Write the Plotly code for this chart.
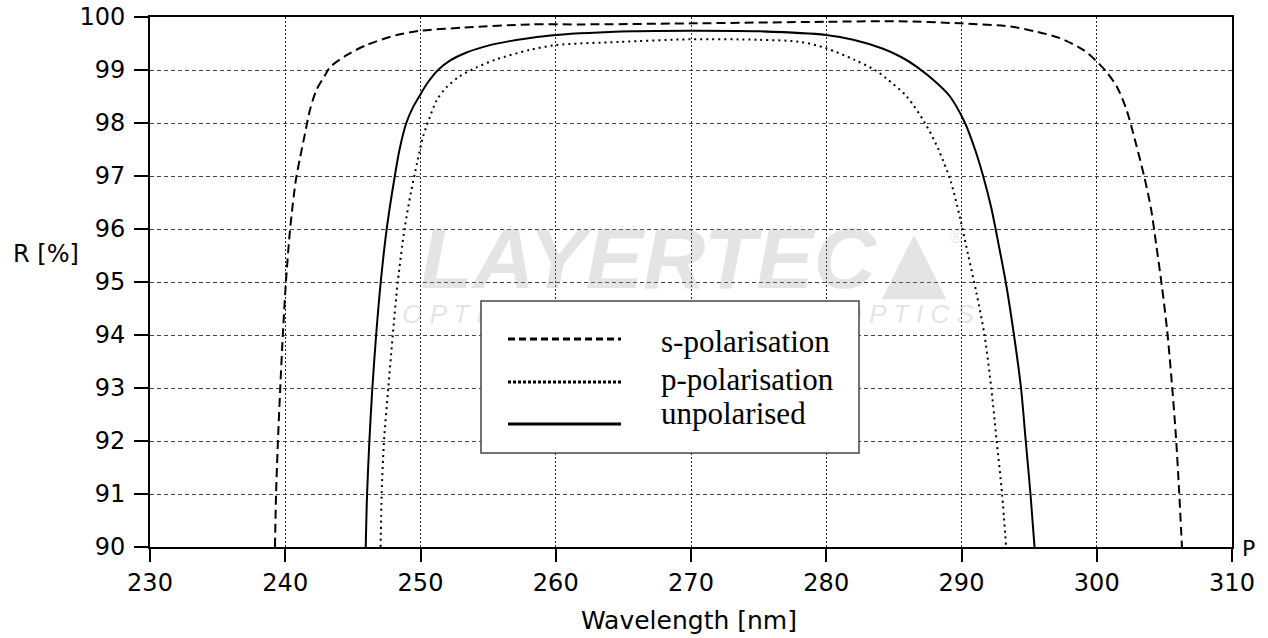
import plotly.graph_objects as go

# ---- data ----
s_wl = [239.24, 239.32, 239.46, 239.63, 239.82, 240.05, 240.36, 240.8, 241.1, 241.46, 241.83, 242.3,
        242.94, 243.3, 244.54, 246.0, 248.24, 250.0, 253.2, 258.1, 262, 270, 280, 285.4, 289.9,
        293.6, 295.6, 297.3, 299.0, 300.0, 300.7, 301.5, 302.2, 302.7, 303.5, 304.0, 304.4,
        304.8, 305.2, 305.55, 305.85, 306.08, 306.3]
s_R = [90, 91, 92, 93, 94, 95, 96, 96.95, 97.35, 97.8, 98.25, 98.62,
       98.9, 99.05, 99.28, 99.47, 99.66, 99.74, 99.8, 99.86, 99.86, 99.88, 99.91, 99.92, 99.88,
       99.82, 99.72, 99.6, 99.38, 99.16, 98.97, 98.68, 98.25, 97.8, 97.0, 96.4, 95.7,
       94.95, 94.1, 93.1, 92.1, 91.1, 90.0]

p_wl = [247.05, 247.13, 247.3, 247.62, 247.95, 248.32, 248.82, 249.3, 249.75, 250.2, 250.7, 251.2,
        251.94, 252.9, 254.15, 255.6, 258.1, 260, 264.7, 270, 275, 278.1, 280, 282.1, 283.6,
        284.4, 285.95, 287.3, 288.3, 289.2, 289.9, 290.5, 291.1, 291.7, 292.2, 292.6, 293.0, 293.3]
p_R = [90, 91, 92, 93, 94, 95, 96, 96.7, 97.25, 97.75, 98.12, 98.43,
       98.68, 98.88, 99.05, 99.2, 99.38, 99.47, 99.53, 99.58, 99.57, 99.53, 99.41, 99.19, 99.0,
       98.85, 98.5, 98.0, 97.5, 96.9, 96.2, 95.5, 94.8, 94.0, 93.0, 92.0, 91.0, 90.0]

u_wl = [245.95, 246.05, 246.22, 246.44, 246.72, 247.06, 247.5, 248.1, 248.45, 248.95, 249.45,
        249.9, 250.5, 251.3, 252.2, 253.4, 255.0, 256.5, 258.0, 260, 265.7, 270, 275.1, 280, 282.0,
        284.2, 285.5, 286.7, 288.2, 289.15, 290.26, 291.0, 291.6, 292.2, 292.75, 293.27, 293.88,
        294.4, 294.75, 295.1, 295.4]
u_R = [90, 91, 92, 93, 94, 95, 96, 97, 97.5, 98.0, 98.3,
       98.5, 98.75, 99.0, 99.18, 99.33, 99.46, 99.54, 99.6, 99.66, 99.73, 99.74, 99.73, 99.66, 99.57,
       99.4, 99.25, 99.06, 98.75, 98.5, 98.0, 97.5, 97.0, 96.4, 95.7, 95.0, 94.0,
       93.0, 92.0, 91.0, 90.0]

series_names = ["s-polarisation", "p-polarisation", "unpolarised"]
x_ticks = [230, 240, 250, 260, 270, 280, 290, 300, 310]
y_ticks = [90, 91, 92, 93, 94, 95, 96, 97, 98, 99, 100]

# ---- layout geometry (pixels) ----
W, H = 1268, 638
L, R_, T, B = 150, 36, 17, 91
PW, PH = W - L - R_, H - T - B


def px(x):
    return (x - L) / PW


def py(y):
    return (H - B - y) / PH


AX_FONT = "DejaVu Sans"
SERIF = "Liberation Serif"

fig = go.Figure()

# watermark (text trace on a hidden 0..1 overlay frame so it stays below the legend box)
fig.add_trace(go.Scatter(
    x=[px(648), px(914), px(956), px(688)], y=[py(266), py(268), py(238), py(316)],
    xaxis="x2", yaxis="y2", mode="text",
    text=["LAYERTEC", "▲", "®", "O P T I C A L    C O A T I N G S    &    O P T I C S"],
    textfont=dict(family=["Liberation Sans", "DejaVu Sans", "Liberation Sans", "Liberation Sans"],
                  size=[86, 84, 18, 26], color="rgba(150,150,150,0.26)",
                  weight=["bold", "normal", "normal", "normal"],
                  style=["italic", "normal", "normal", "italic"]),
    hoverinfo="skip", showlegend=False, cliponaxis=False,
))

line_styles = [dict(color="black", width=2, dash="9px,5px"),
               dict(color="black", width=2, dash="2px,4px"),
               dict(color="black", width=2)]
for name, xs, ys, ls in zip(series_names, [s_wl, p_wl, u_wl], [s_R, p_R, u_R], line_styles):
    fig.add_trace(go.Scatter(x=xs, y=ys, mode="lines", name=name,
                             line=dict(shape="spline", smoothing=0.8, **ls),
                             showlegend=False))

shapes = []
annotations = []

# custom legend box
shapes.append(dict(type="rect", xref="paper", yref="paper", layer="above",
                   x0=px(481), x1=px(859), y0=py(453), y1=py(301),
                   fillcolor="white", line=dict(color="#444", width=1.5)))
legend_line_y = [339, 382, 424]
legend_text_y = [341, 379, 413]
legend_dash = ["7px,4px", "3px,2px", "solid"]
for name, ly, ty, d in zip(series_names, legend_line_y, legend_text_y, legend_dash):
    shapes.append(dict(type="line", xref="paper", yref="paper", layer="above",
                       x0=px(508), x1=px(621), y0=py(ly), y1=py(ly),
                       line=dict(color="black", width=3, dash=d)))
    annotations.append(dict(xref="paper", yref="paper", x=px(659), y=py(ty),
                            xanchor="left", yanchor="middle", showarrow=False, text=name,
                            font=dict(family=SERIF, size=31, color="black")))

# axis titles
annotations.append(dict(xref="paper", yref="paper", x=px(11), y=py(254), xanchor="left",
                        yanchor="middle", showarrow=False, text="R [%]",
                        font=dict(family=AX_FONT, size=24, color="black")))
annotations.append(dict(xref="paper", yref="paper", x=px(689), y=py(620), xanchor="center",
                        yanchor="middle", showarrow=False, text="Wavelength [nm]",
                        font=dict(family=AX_FONT, size=25, color="black")))
annotations.append(dict(xref="paper", yref="paper", x=px(1248), y=py(548), xanchor="center",
                        yanchor="middle", showarrow=False, text="P",
                        font=dict(family=AX_FONT, size=22, color="black")))

fig.update_layout(
    width=W, height=H,
    margin=dict(l=L, r=R_, t=T, b=B, pad=0, autoexpand=False),
    paper_bgcolor="white", plot_bgcolor="white",
    showlegend=False,
    shapes=shapes, annotations=annotations,
    xaxis=dict(range=[230, 310], tickvals=x_ticks, ticktext=[str(v) for v in x_ticks],
               showline=True, linecolor="black", linewidth=2, mirror=True,
               ticks="outside", ticklen=13, tickwidth=2, tickcolor="black", automargin=False,
               showgrid=True, gridcolor="#222", gridwidth=1, griddash="2px,2px",
               zeroline=False, tickfont=dict(family=AX_FONT, size=24, color="black")),
    yaxis=dict(range=[90, 100], tickvals=y_ticks, ticktext=[str(v) for v in y_ticks],
               showline=True, linecolor="black", linewidth=2, mirror=True,
               ticks="outside", ticklen=14, tickwidth=2, tickcolor="black", automargin=False,
               ticklabelstandoff=4,
               showgrid=True, gridcolor="#444", gridwidth=1, griddash="4px,3px",
               zeroline=False, tickfont=dict(family=AX_FONT, size=24, color="black")),
    xaxis2=dict(range=[0, 1], overlaying="x", visible=False, fixedrange=True),
    yaxis2=dict(range=[0, 1], overlaying="y", visible=False, fixedrange=True),
)

fig.write_html("out.html", config={"displayModeBar": False},
               post_script="document.body.style.margin='0px';")
